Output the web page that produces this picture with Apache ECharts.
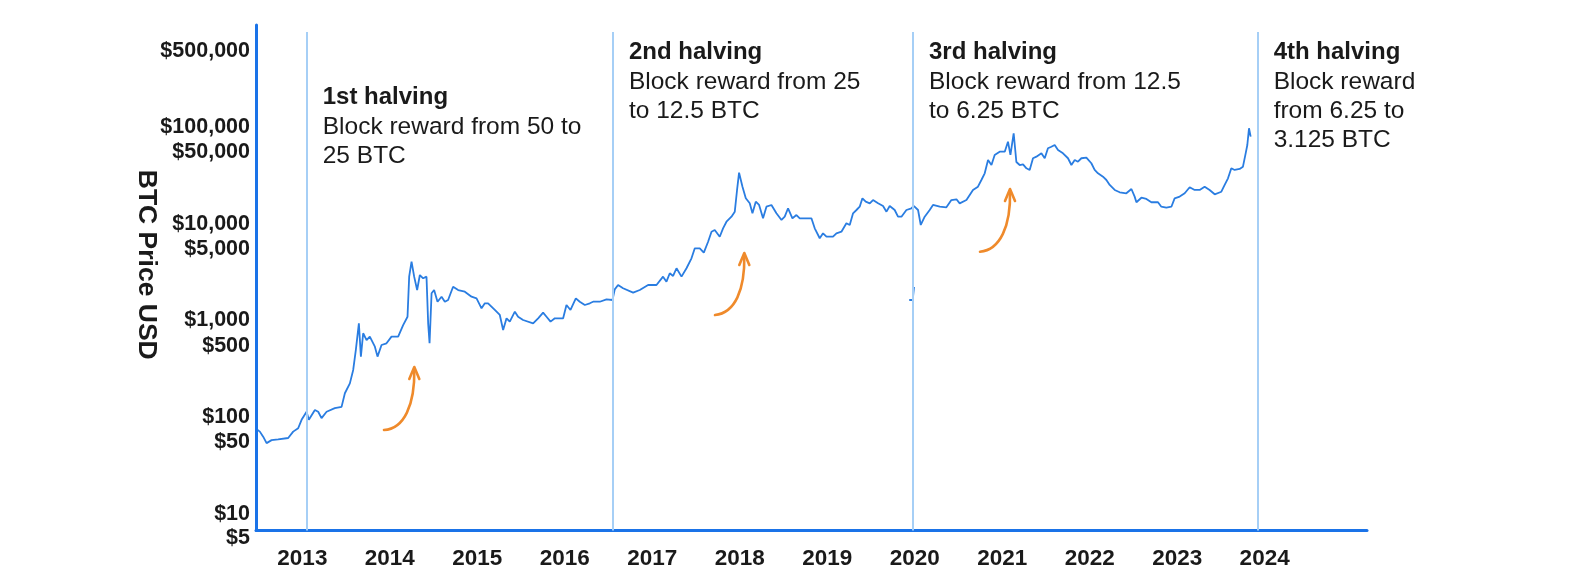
<!DOCTYPE html>
<html><head><meta charset="utf-8">
<script src="https://cdn.jsdelivr.net/npm/echarts@6/dist/echarts.min.js"></script>
<style>html,body{margin:0;padding:0;background:#fff}#c{width:1580px;height:580px}</style>
</head><body><div id="c"></div>
<script>
// Decimal-year positions and BTC prices (USD)
const dates = [2012.488,2012.514,2012.552,2012.591,2012.648,2012.723,2012.838,2012.895,2012.952,2012.991,
2013.048,2013.074,2013.143,2013.181,2013.219,2013.277,2013.371,2013.448,2013.486,2013.543,2013.581,2013.611,
2013.646,2013.669,2013.695,2013.734,2013.771,2013.829,2013.859,2013.905,2013.962,2014.019,2014.095,2014.152,
2014.202,2014.221,2014.248,2014.278,2014.312,2014.343,2014.381,2014.419,2014.438,2014.454,2014.477,2014.506,
2014.545,2014.591,2014.629,2014.666,2014.723,2014.781,2014.857,2014.934,2014.991,2015.048,2015.086,2015.123,
2015.2,2015.257,2015.295,2015.334,2015.371,2015.429,
2015.466,2015.523,2015.638,2015.695,2015.752,2015.791,2015.837,2015.886,2015.981,2016.019,2016.065,2016.126,
2016.171,2016.229,2016.286,2016.323,2016.4,2016.477,2016.545,2016.571,2016.609,2016.666,2016.781,2016.857,
2016.952,2017.048,2017.123,2017.162,2017.2,2017.238,2017.277,2017.334,2017.391,2017.448,2017.486,2017.543,
2017.589,2017.638,2017.677,2017.714,2017.771,2017.809,2017.848,2017.905,2017.943,2017.969,2017.992,2018.031,
2018.069,2018.114,2018.145,2018.183,2018.221,2018.266,2018.305,2018.362,2018.419,2018.477,2018.514,2018.552,
2018.602,2018.648,2018.686,2018.819,2018.857,2018.914,2018.952,2018.991,2019.066,2019.105,2019.162,2019.219,
2019.257,2019.295,2019.334,2019.371,2019.402,2019.44,2019.486,2019.523,2019.581,2019.638,2019.677,2019.714,
2019.771,2019.809,2019.848,2019.905,2019.962,2019.992,2020.038,2020.069,2020.114,2020.171,2020.209,2020.286,
2020.362,2020.419,2020.477,2020.514,2020.591,2020.666,2020.723,2020.762,2020.8,2020.838,2020.877,2020.914,
2020.971,2021.029,2021.066,2021.094,2021.131,2021.162,2021.2,2021.238,2021.277,2021.314,2021.352,2021.391,
2021.448,2021.486,2021.523,2021.562,2021.6,2021.638,2021.695,2021.752,2021.791,2021.829,2021.866,2021.905,
2021.962,2022.019,2022.057,2022.095,2022.152,2022.191,2022.229,2022.286,2022.343,2022.419,2022.477,2022.514,
2022.534,2022.591,2022.648,2022.705,2022.781,2022.819,2022.876,2022.934,2022.971,2023.029,2023.086,2023.143,
2023.2,2023.257,2023.314,2023.371,2023.429,2023.505,2023.543,2023.581,2023.619,2023.657,2023.714,2023.752,
2023.783,2023.802,2023.821,2023.84];
const prices = [74,71,63,54,58,59,61,71,77,94,
114,94,119,114,98,114,124,128,177,224,308,495,
935,423,738,628,681,536,423,558,581,681,681,897,
1094,2838,4055,2838,2065,2951,2729,2838,935,581,1910,2065,
1563,1762,1563,1629,2234,2065,1986,1762,1694,1337,1506,1506,
1285,1140,798,1054,973,1233,
1094,1012,935,1054,1205,1094,973,1054,1054,1445,1285,1694,
1563,1445,1506,1563,1563,1656,1629,2099,2328,2153,1938,2065,
2328,2328,2838,2518,3076,2884,3467,2838,3467,4395,5572,5572,
5023,6516,8275,8610,7345,8970,10490,11830,13330,22340,33710,24150,
18320,16260,12820,16900,15630,11380,15000,15630,12820,10940,11830,14450,
11380,12300,11380,11380,8970,7080,7965,7345,7345,7965,8275,10120,
9710,12820,13870,15000,18320,16900,16260,17580,16260,15240,13330,15240,
13870,11830,11830,13870,14450,15240,13870,9710,11830,13870,15630,15000,
14790,17580,17900,16260,17580,22340,24150,28310,33200,45600,40460,51400,
55590,55590,70470,51400,86100,43450,40460,41110,37410,35970,47530,49350,
53460,47530,60260,62520,65120,57820,53460,47530,40460,45600,43770,47530,
48190,42170,35970,33200,30620,28310,25170,22340,21150,20650,22860,19070,
16670,18580,18030,16670,16670,15000,14660,15000,18320,19070,20650,23830,
22340,22340,24150,22340,20150,21430,25170,29480,37410,35970,36810,38880,
53460,65120,97010,79430];
// stray fragment visible near the 3rd halving line
const fragmentDates = [2019.937, 2019.977, 2019.992];
const fragmentPrices = [1629, 1629, 2218];

const halvingDates = [2013.05, 2016.55, 2019.98, 2023.92];
const halvingTitles = ['1st halving', '2nd halving', '3rd halving', '4th halving'];
const halvingTexts = [
  ['Block reward from 50 to', '25 BTC'],
  ['Block reward from 25', 'to 12.5 BTC'],
  ['Block reward from 12.5', 'to 6.25 BTC'],
  ['Block reward', 'from 6.25 to', '3.125 BTC']
];
const yearTicks = [2013,2014,2015,2016,2017,2018,2019,2020,2021,2022,2023,2024];
const priceTicks = [10,50,100,500,1000,5000,10000,50000,100000,500000];
const bottomPriceLabel = 5; // sits just below the axis floor in the reference

const X_MIN = 2012.47, X_MAX = 2025.17, Y_MIN = 6.75, Y_MAX = 1133000, HALVING_TOP = 960000;
const FONT = '"Liberation Sans", Arial, sans-serif';
const BLUE = '#1a73e8';
const LABEL_SIZE = 21.5;

const fmtPrice = v => '$' + Math.round(v).toLocaleString('en-US');
const labelRich = {fontFamily: FONT, fontWeight: 'bold', fontSize: LABEL_SIZE, color: '#1a1a1a'};

const chart = echarts.init(document.getElementById('c'), null, {renderer: 'canvas'});
const mainData = dates.map((d, i) => [d, prices[i]]);
const fragData = fragmentDates.map((d, i) => [d, fragmentPrices[i]]);

chart.setOption({
  animation: false,
  backgroundColor: '#fff',
  grid: {left: 256, right: 213, top: 25, bottom: 49.5, containLabel: false},
  xAxis: {
    type: 'value', min: X_MIN, max: X_MAX,
    axisLine: {show: true, lineStyle: {color: BLUE, width: 3}},
    axisTick: {show: false},
    splitLine: {show: false},
    axisLabel: {
      customValues: yearTicks, margin: 17,
      fontFamily: FONT, fontWeight: 'bold', fontSize: 22.5, color: '#1a1a1a',
      formatter: v => String(Math.round(v))
    }
  },
  yAxis: {
    type: 'log', logBase: 10, min: Y_MIN, max: Y_MAX,
    name: 'BTC Price USD', nameLocation: 'middle', nameRotate: -90, nameGap: 96,
    nameMoveOverlap: false,
    nameTextStyle: {fontFamily: FONT, fontWeight: 'bold', fontSize: 26.5, color: '#1a1a1a', padding: [0, 26, 0, 0]},
    axisLine: {show: true, lineStyle: {color: BLUE, width: 3}},
    axisTick: {show: false},
    splitLine: {show: false},
    axisLabel: {
      customValues: priceTicks, margin: 6,
      fontFamily: FONT, fontWeight: 'bold', fontSize: LABEL_SIZE, color: '#1a1a1a',
      formatter: v => {
        const r = Math.round(v);
        const s = fmtPrice(r);
        if (r === 500000) return '{hh|' + s + '}';
        if (String(r).charAt(0) === '5') return '{h|' + s + '}';
        return s;
      },
      rich: {
        h: Object.assign({padding: [0, 0, 8, 0]}, labelRich),
        hh: Object.assign({padding: [0, 0, 16, 0]}, labelRich)
      }
    }
  },
  series: [
    {
      type: 'line', data: [], z: 1, silent: true,
      markLine: {
        silent: true, symbol: 'none', animation: false,
        label: {show: false},
        lineStyle: {color: '#a6cff6', width: 2, type: 'solid'},
        data: halvingDates.map(d => [{coord: [d, Y_MIN]}, {coord: [d, HALVING_TOP]}])
      }
    },
    {
      type: 'line', data: mainData, z: 3, showSymbol: false, symbol: 'none',
      lineStyle: {color: '#2a7de1', width: 1.8}, silent: true
    },
    {
      type: 'line', data: fragData, z: 3, showSymbol: false, symbol: 'none',
      lineStyle: {color: '#2a7de1', width: 1.8}, silent: true
    }
  ]
});

const textTops = [82, 37, 37, 37];
const graphics = [];
halvingDates.forEach((d, i) => {
  const px = chart.convertToPixel({xAxisIndex: 0}, d);
  const body = halvingTexts[i].map(t => '{b|' + t + '}').join('\n');
  graphics.push({
    type: 'text', x: px + 16, y: textTops[i], z: 10,
    style: {
      text: '{t|' + halvingTitles[i] + '}\n' + body,
      rich: {
        t: {fontFamily: FONT, fontWeight: 'bold', fontSize: 24, lineHeight: 31, fill: '#1a1a1a'},
        b: {fontFamily: FONT, fontSize: 24.5, lineHeight: 29, fill: '#1a1a1a'}
      }
    }
  });
});
// "$5" tick label sits below the axis floor (outside the axis extent)
const y10 = chart.convertToPixel({yAxisIndex: 0}, 10);
graphics.push({
  type: 'text', x: 250, y: y10 + 24, z: 10,
  style: {text: fmtPrice(bottomPriceLabel), fontFamily: FONT, fontWeight: 'bold', fontSize: LABEL_SIZE,
          fill: '#1a1a1a', align: 'right', verticalAlign: 'middle'}
});
// orange hand-drawn style arrows
const ORANGE = '#ef8a2b';
const arrows = [
  {s: [384, 430], c1: [404, 429], c2: [415, 405], e: [414.3, 369]},
  {s: [715, 315], c1: [735, 313], c2: [745, 290], e: [744.3, 255]},
  {s: [980, 251.7], c1: [1000, 250], c2: [1011, 226], e: [1010, 191]}
];
arrows.forEach(a => {
  graphics.push({
    type: 'bezierCurve', z: 5,
    shape: {x1: a.s[0], y1: a.s[1], cpx1: a.c1[0], cpy1: a.c1[1], cpx2: a.c2[0], cpy2: a.c2[1], x2: a.e[0], y2: a.e[1]},
    style: {stroke: ORANGE, lineWidth: 2.6, fill: null, lineCap: 'round'}
  });
  graphics.push({
    type: 'polyline', z: 5,
    shape: {points: [[a.e[0] - 5, a.e[1] + 10], [a.e[0], a.e[1] - 2], [a.e[0] + 5, a.e[1] + 10]]},
    style: {stroke: ORANGE, lineWidth: 2.6, fill: null, lineCap: 'round', lineJoin: 'round'}
  });
});
chart.setOption({graphic: graphics});
</script>
</body></html>
